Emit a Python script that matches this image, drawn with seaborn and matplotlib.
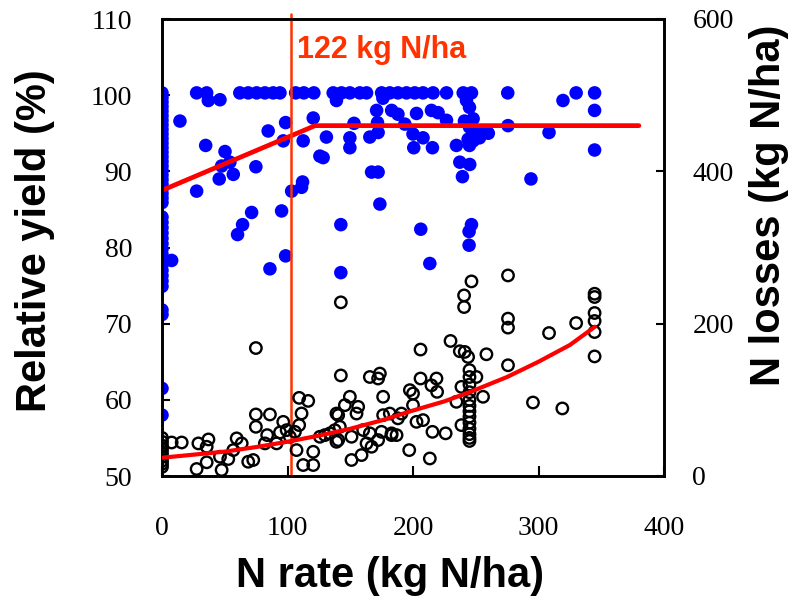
import numpy as np
import pandas as pd
import matplotlib
matplotlib.use("Agg")
import matplotlib.pyplot as plt
import seaborn as sns

# ---------------- data ----------------
# Relative yield (%) at N rate = 0
yield_x0 = [100.3, 99.7, 99.1, 98.5, 97.9, 97.3, 96.7, 96.1, 95.5, 94.9, 94.3,
            93.7, 93.1, 92.5, 91.9, 91.3, 90.7, 90.1, 89.5, 88.9, 88.3, 87.7,
            87.1, 86.5, 85.9, 84.0, 83.3, 82.6, 81.9, 81.2, 80.5, 79.8, 79.1,
            78.4, 77.7, 77.0, 76.3, 75.6, 74.9, 71.8, 71.2, 61.5, 58.0]

# Other relative-yield points: N rate (kg N/ha), yield (%)
yield_rate = [7.7, 14.3, 27.6, 35.6, 36.9, 46.2, 62, 68.7, 75.4, 82, 88.6, 94,
              106.5, 113, 121, 136.4, 139, 143, 149.7, 157.6, 163,
              175, 176, 181.5, 188, 194.8, 201.4, 208, 216, 226.7, 240, 246.6, 242.6, 245,
              275.5, 330, 344.7, 319.5, 344.7,
              84.6, 98.5, 120.5, 96.6, 112.5, 131, 125.8, 128.4,
              34.8, 50.2, 47.5, 54.1, 74.8, 56.8, 45.6, 27.6,
              103.3, 111.2, 112, 95.3, 71.4, 64.2, 60.2, 98.5, 86,
              171, 183, 188, 202.8, 214.7, 220, 226.7, 241, 247.9,
              153, 171.7, 193.5, 275.7,
              149.7, 149.7, 165.6, 172.2, 200, 208, 200.6, 215.5,
              245, 250.5, 255.8, 260, 243.9, 247.9, 253, 245, 234.6,
              237.3, 245.2, 239.4, 167, 172.2, 173.6, 142.5, 206.2,
              246.6, 244.7, 244.7, 213.4, 142.5, 294,
              308.4, 344.7]
yield_val = [78.3, 96.6, 100.3, 100.3, 99.3, 99.4, 100.3, 100.3, 100.3, 100.3, 100.3, 100.3,
             100.3, 100.3, 100.3, 100.3, 99.3, 100.3, 100.3, 100.3, 100.3,
             100.3, 99.6, 100.3, 100.3, 100.3, 100.3, 100.3, 100.3, 100.3, 100.3, 100.3, 99.3, 98.4,
             100.3, 100.3, 100.3, 99.3, 98.0,
             95.3, 96.4, 97.0, 94.0, 94.0, 94.5, 92.0, 91.8,
             93.4, 92.6, 90.7, 91.2, 90.6, 89.6, 89.0, 87.4,
             87.4, 87.9, 88.6, 84.8, 84.6, 83.0, 81.7, 78.9, 77.2,
             98.0, 98.0, 97.5, 97.6, 98.0, 97.7, 96.7, 96.6, 96.9,
             96.3, 96.4, 96.2, 96.0,
             94.4, 93.1, 94.5, 95.1, 94.9, 94.4, 93.1, 93.1,
             95.8, 95.3, 95.1, 95.0, 94.2, 94.0, 94.4, 93.4, 93.4,
             91.2, 90.9, 89.3, 89.9, 89.9, 85.7, 83.0, 82.4,
             83.0, 82.1, 80.3, 77.9, 76.7, 89.0,
             95.1, 92.8]

# N losses (kg N/ha): N rate, loss
loss_rate = [0, 0, 0, 0, 0, 0, 0, 0, 0,
             7.7, 15.7, 29, 37, 35.6, 27.6, 35.6, 47.5, 46.2, 52.8,
             59.5, 63.5, 56.8, 68.7, 72.7, 74.8, 74.8, 74.8, 86, 83.8,
             82, 94, 96.6, 99.3, 101.9, 91.3, 109.3, 116.5,
             111.2, 109.3, 105.9, 107.2, 112.5, 120.5, 120.5, 125.8, 129.8,
             139, 139, 137.7, 142.5, 142.5, 133.8,
             206, 229.9, 237.3, 241.2, 243.9, 258.5,
             275.7, 246.6, 240.7, 240.7, 275.7, 275.7, 275.7,
             245, 245, 245, 245, 245, 245, 245, 245, 245, 245, 245, 245, 245,
             238.6, 238.6, 250.5, 255.8, 234.6, 226, 215.5, 213.4, 197,
             218.7, 214.7, 219.2, 206, 197.5, 200, 200, 202.8, 208,
             190.8, 188, 181.5, 182.9, 176.2, 176.2, 165.6, 173.6, 172.2,
             149.7, 145.7, 156.3, 155, 140.4, 141.7, 140.4, 151, 160.3, 163, 165.6,
             172.2, 174.9, 182.9, 186.9, 159, 151, 167,
             308.4, 330, 344.7, 344.7, 344.7, 344.7, 344.7, 344.7, 295.6, 319]
loss_val = [50, 45, 40, 35, 30, 25, 20, 16, 12,
            44, 44, 42.8, 48, 38.4, 9.2, 18, 7.9, 25.3, 22.3,
            49.4, 42.8, 34, 18.7, 21, 168, 80.8, 64.6, 80.8, 53.7,
            42.8, 57.2, 71.1, 60.2, 51.5, 42.8, 102.6, 98.6,
            82.1, 66.8, 58, 34, 14.4, 14.4, 31.8, 51.5, 53.7,
            44.9, 82, 60.2, 228, 132, 56,
            166, 177.3, 163.8, 162.9, 156.3, 159.8,
            263.3, 255.5, 237.1, 221.8, 206.6, 194.8, 145.4,
            139, 130, 120, 110, 100, 92, 85, 78, 70, 62, 55, 50, 46,
            117, 66.8, 130, 104, 97.4, 56, 58, 23, 34,
            128, 119, 110.5, 128, 112.7, 108.3, 93, 71.1, 73.4,
            82, 75.7, 82, 56, 79.9, 104, 130, 134.5, 128,
            104, 93, 90.8, 82, 79.9, 64.6, 47.2, 51.5, 60.3, 42.8, 56,
            47.2, 58, 53.7, 53.7, 27.5, 21, 38.4,
            187.7, 200.8, 239.3, 235, 214, 203.5, 189, 157, 96.5, 88.7]

# Fitted curves
plateau_rate = [0, 122, 380]
plateau_yield = [87.5, 96.0, 96.0]
loss_fit_rate = [0, 25, 50, 75, 100, 125, 150, 175, 200, 225, 245, 275, 300, 325, 345]
loss_fit_val = [24, 28, 32, 38, 45, 53, 62, 73, 86, 98, 110, 130, 150, 172, 196]

optimum_rate = 103
optimum_label = "122 kg N/ha"

x_ticks = [0, 100, 200, 300, 400]
y_ticks = [50, 60, 70, 80, 90, 100, 110]
y2_ticks = [0, 200, 400, 600]

# ---------------- figure ----------------
sns.set_style("white")
plt.rcParams["font.family"] = ["Liberation Serif", "DejaVu Serif"]
for key in ("text.color", "axes.labelcolor", "xtick.color", "ytick.color",
            "xtick.labelcolor", "ytick.labelcolor"):
    plt.rcParams[key] = "black"

fig = plt.figure(figsize=(7.88, 6.01), dpi=100)
ax = fig.add_axes([162 / 788, 1 - 476 / 601, 502 / 788, 457 / 601])
ax2 = ax.twinx()

df_y = pd.DataFrame({"rate": [0] * len(yield_x0) + yield_rate,
                     "yield": yield_x0 + yield_val})
df_l = pd.DataFrame({"rate": loss_rate, "loss": loss_val})

sns.scatterplot(data=df_y, x="rate", y="yield", ax=ax, color="#0000ff",
                s=95, edgecolor="none", linewidth=0, zorder=2, legend=False)
sns.lineplot(x=plateau_rate, y=plateau_yield, ax=ax, color="#ff0000",
             lw=3.4, zorder=3, legend=False)
ax.axvline(optimum_rate, color="#ff3300", lw=1.8, zorder=4,
           ymin=0, ymax=1.01, clip_on=False)
ax.text(107.5, 104.9, optimum_label, color="#ff3300", fontsize=22,
        fontweight="bold", family=["Liberation Sans", "DejaVu Sans"],
        ha="left", va="baseline", zorder=5)

sns.scatterplot(data=df_l, x="rate", y="loss", ax=ax2, marker="o",
                facecolor="none", edgecolor="black", linewidth=1.7, s=68,
                zorder=2, legend=False)
sns.lineplot(x=loss_fit_rate, y=loss_fit_val, ax=ax2, color="#ff0000",
             lw=3.0, zorder=3, legend=False)

ax.set_xlim(0, 400)
ax.set_ylim(50, 110)
ax2.set_ylim(0, 600)
ax.set_xticks(x_ticks)
ax.set_yticks(y_ticks)
ax2.set_yticks(y2_ticks)

for a in (ax, ax2):
    for sp in a.spines.values():
        sp.set_visible(True)
        sp.set_color("black")
        sp.set_linewidth(1.9)

ax.tick_params(axis="x", direction="in", length=7, width=1.5, pad=29,
               labelsize=20, top=False, bottom=True, colors="black")
ax.tick_params(axis="y", direction="in", length=6, width=1.5, pad=21.5,
               labelsize=20, left=True, right=False, colors="black")
ax2.tick_params(axis="y", direction="in", length=6, width=1.5, pad=20.5,
                labelsize=20, right=True, left=False, colors="black")

lab_font = dict(fontsize=30, fontweight="bold", color="black",
                family=["Liberation Sans", "DejaVu Sans"])
ax.set_xlabel("N rate (kg N/ha)", **lab_font)
ax.set_ylabel("Relative yield (%)", **lab_font)
ax2.set_ylabel("N losses (kg N/ha)", **lab_font)
ax.xaxis.set_label_coords(0.454, -0.175)
ax.yaxis.set_label_coords(-0.214, 0.516)
ax2.yaxis.set_label_coords(1.169, 0.593)

fig.savefig("out.png", dpi=100)
